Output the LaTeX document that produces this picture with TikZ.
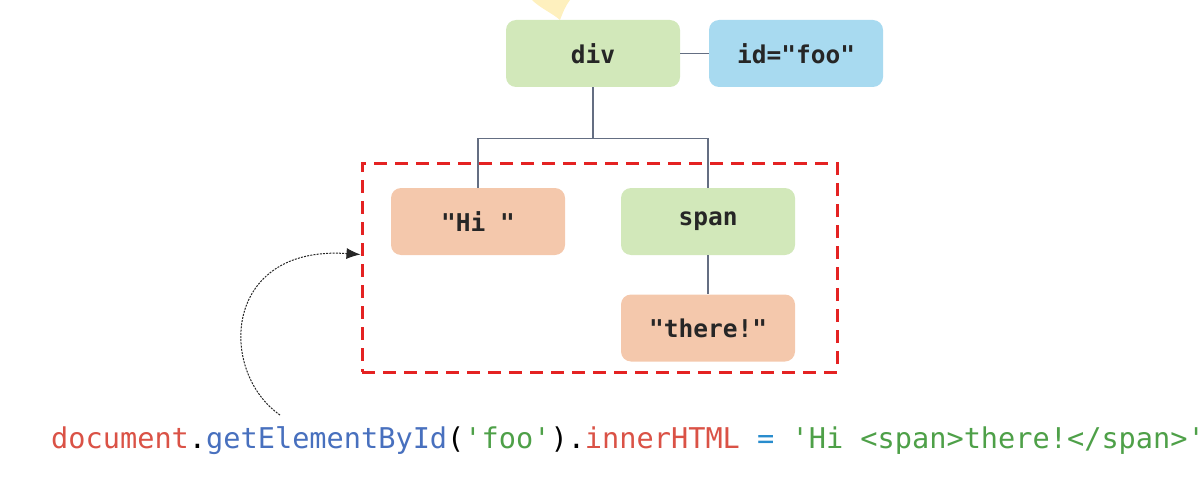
\documentclass[tikz,border=0pt]{standalone}
\usepackage{fontspec}
\usepackage[RGB]{xcolor}
\usetikzlibrary{arrows.meta}
\newfontfamily\codefont{DejaVu Sans Mono}
\definecolor{G}{RGB}{210,232,186}
\definecolor{B}{RGB}{168,218,240}
\definecolor{O}{RGB}{244,200,172}
\definecolor{wire}{RGB}{100,110,130}
\definecolor{sel}{RGB}{228,34,34}
\definecolor{blob}{RGB}{254,240,190}
\definecolor{jsred}{RGB}{218,82,70}
\definecolor{jsblue}{RGB}{72,112,190}
\definecolor{jsgreen}{RGB}{78,160,72}
\definecolor{jsop}{RGB}{40,140,205}
\newcommand{\treebox}[4]{\node[box, fill=#4] (#1) at (#2) {#3};}
\newcommand{\drawwire}{\draw[wire, line width=1.1pt]}
\newcommand{\q}{\textquotesingle}

\begin{document}
\begin{tikzpicture}[x=1pt, y=-1pt,
  box/.style={rounded corners=10pt, minimum width=174pt, minimum height=67pt, inner sep=0pt,
    font=\codefont\bfseries\fontsize{24.5}{28}\selectfont, text=black!85}]
\useasboundingbox (0,0) rectangle (1204,484);
\fill[blob] (532,0) .. controls (540,8) and (552,13) .. (560,20) .. controls (563,12) and (566,5) .. (570,0) -- cycle;
\treebox{div}{593,53.5}{div}{G}
\treebox{id}{796,53.5}{id="foo"}{B}
\treebox{hi}{478,221.5}{"Hi "}{O}
\treebox{span}{708,221.5}{span}{G}
\treebox{there}{708,328}{"there!"}{O}
\drawwire (div.east)--(id.west);
\drawwire (div.south)--++(0,51)-|(hi.north);
\drawwire (div.south)--++(0,51)-|(span.north);
\drawwire (span.south)--(there.north);
\node[draw=sel, line width=3pt, dash pattern=on 13pt off 8pt, minimum width=475pt, minimum height=209pt, inner sep=0pt] (dom) at (599.5,267.5) {};
\node[anchor=base west, inner sep=0pt] (code) at (51,448) {\codefont\fontsize{28.6}{31}\selectfont
  \textcolor{jsred}{document}.\textcolor{jsblue}{getElementById}(\textcolor{jsgreen}{\q foo\q}).\textcolor{jsred}{innerHTML} \textcolor{jsop}{=} \textcolor{jsgreen}{\q Hi <span>there!</span>\q}};
\coordinate (from) at (280,415);
\draw[black!85, dash pattern=on 2pt off 1.2pt, line width=1pt, -{Latex[length=14pt, width=11pt]}] (from) .. controls (218,372) and (222,245) .. ([yshift=13pt]dom.west);
\end{tikzpicture}
\end{document}
